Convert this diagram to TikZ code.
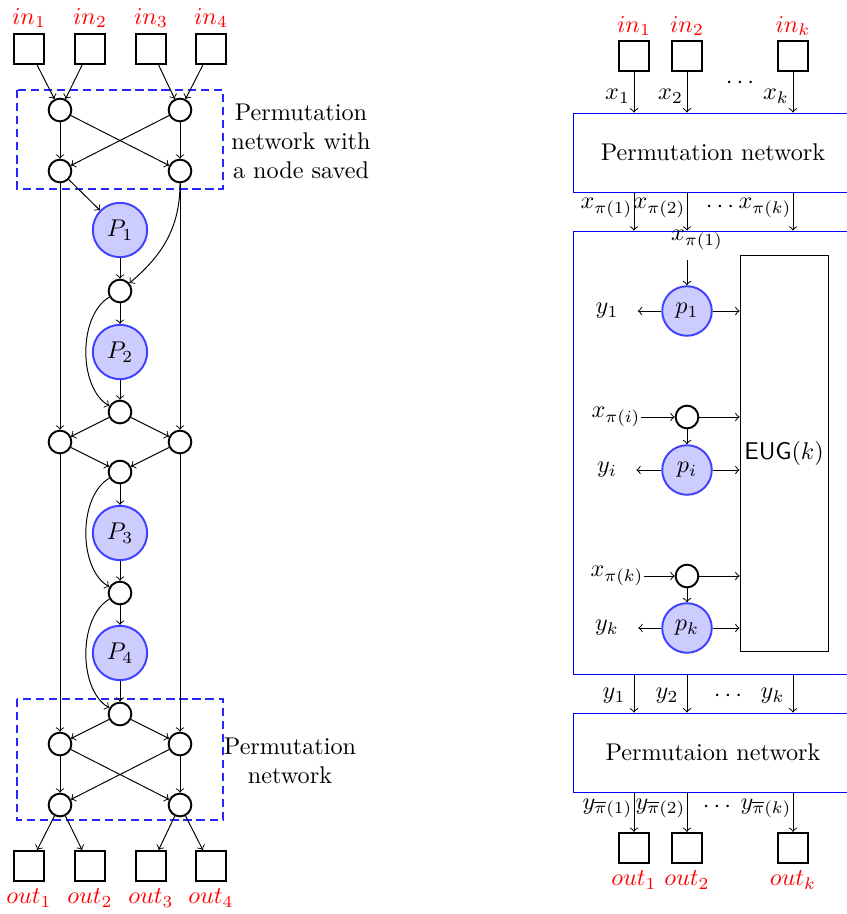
\documentclass[tikz,border=0pt]{standalone}
\usetikzlibrary{calc}
\begin{document}
\begin{tikzpicture}[x=0.01452cm,y=0.01452cm,
  sq/.style={draw,thick,minimum size=.44cm,inner sep=0pt},
  sw/.style={circle,draw,thick,minimum size=.33cm,inner sep=0pt},
  pbig/.style={circle,draw=blue!75,thick,fill=blue!20,minimum size=.79cm,inner sep=0pt},
  psmall/.style={pbig,minimum size=.72cm},
  io/.style={text=red},
  perm/.style={color=blue!85,semithick,dash pattern=on 3.4pt off 2pt},
  ylab/.style={shorten >=4.5pt}]
  \useasboundingbox (0,0) rectangle (847,-914);
  \draw(29,-49) node[sq] (in1) {};
  \draw(90,-49) node[sq] (in2) {};
  \draw(151,-49) node[sq] (in3) {};
  \draw(211,-49) node[sq] (in4) {};
  \draw(29,-18) node[io] (tin1) {$in_1$};
  \draw(90,-18) node[io] (tin2) {$in_2$};
  \draw(151,-18) node[io] (tin3) {$in_3$};
  \draw(211,-18) node[io] (tin4) {$in_4$};
  \draw(60,-110) node[sw] (a1) {};
  \draw(180,-110) node[sw] (a2) {};
  \draw(60,-171) node[sw] (b1) {};
  \draw(180,-171) node[sw] (b2) {};
  \draw[perm] (17,-90) rectangle (223,-189);
  \draw(301,-141) node[align=center] (t1) {Permutation\\network with\\a node saved};
  \draw(120,-230) node[pbig] (P1) {$P_1$};
  \draw(120,-291) node[sw] (c1) {};
  \draw(120,-352) node[pbig] (P2) {$P_2$};
  \draw(120,-412) node[sw] (c2) {};
  \draw(60,-442) node[sw] (l1) {};
  \draw(180,-442) node[sw] (r1) {};
  \draw(120,-472) node[sw] (c3) {};
  \draw(120,-533) node[pbig] (P3) {$P_3$};
  \draw(120,-593) node[sw] (c4) {};
  \draw(120,-653) node[pbig] (P4) {$P_4$};
  \draw(120,-714) node[sw] (c5) {};
  \draw(60,-744) node[sw] (d1) {};
  \draw(180,-744) node[sw] (d2) {};
  \draw(60,-805) node[sw] (e1) {};
  \draw(180,-805) node[sw] (e2) {};
  \draw[perm] (17,-699) rectangle (223,-820);
  \draw(290,-761) node[align=center] (t2) {Permutation\\network};
  \draw(29,-866) node[sq] (out1) {};
  \draw(90,-866) node[sq] (out2) {};
  \draw(151,-866) node[sq] (out3) {};
  \draw(211,-866) node[sq] (out4) {};
  \draw(29,-898) node[io] (tout1) {$out_1$};
  \draw(90,-898) node[io] (tout2) {$out_2$};
  \draw(151,-898) node[io] (tout3) {$out_3$};
  \draw(211,-898) node[io] (tout4) {$out_4$};

  \draw[->] (in1) -- (a1);
  \draw[->] (in2) -- (a1);
  \draw[->] (in3) -- (a2);
  \draw[->] (in4) -- (a2);
  \draw[->] (a1) -- (b1);
  \draw[->] (a1) -- (b2);
  \draw[->] (a2) -- (b1);
  \draw[->] (a2) -- (b2);
  \draw[->] (b1) -- (P1);
  \draw[->] (b1) -- (l1);
  \draw[->] (b2) -- (r1);
  \draw[->] (b2) to[out=-90,in=40] (c1);
  \draw[->] (P1) -- (c1);
  \draw[->] (c1) -- (P2);
  \draw[->] (c1) to[out=210,in=150,looseness=.85] (c2);
  \draw[->] (P2) -- (c2);
  \draw[->] (c2) -- (l1);
  \draw[->] (c2) -- (r1);
  \draw[->] (l1) -- (c3);
  \draw[->] (r1) -- (c3);
  \draw[->] (l1) -- (d1);
  \draw[->] (r1) -- (d2);
  \draw[->] (c3) -- (P3);
  \draw[->] (c3) to[out=210,in=150,looseness=.85] (c4);
  \draw[->] (P3) -- (c4);
  \draw[->] (c4) -- (P4);
  \draw[->] (c4) to[out=210,in=150,looseness=.85] (c5);
  \draw[->] (P4) -- (c5);
  \draw[->] (c5) -- (d1);
  \draw[->] (c5) -- (d2);
  \draw[->] (d1) -- (e1);
  \draw[->] (d1) -- (e2);
  \draw[->] (d2) -- (e1);
  \draw[->] (d2) -- (e2);
  \draw[->] (e1) -- (out1);
  \draw[->] (e1) -- (out2);
  \draw[->] (e2) -- (out3);
  \draw[->] (e2) -- (out4);

  \draw(634,-56) node[sq] (rin1) {};
  \draw(687,-56) node[sq] (rin2) {};
  \draw(793,-56) node[sq] (rink) {};
  \draw(634,-26) node[io] (trin1) {$in_1$};
  \draw(687,-26) node[io] (trin2) {$in_2$};
  \draw(793,-26) node[io] (trink) {$in_k$};
  \draw(740,-83) node (dots1) {$\cdots$};
  \draw(713,-152.5) node[draw=blue,minimum width=4.066cm,minimum height=1.147cm] (pn1) {Permutation network};
  \draw[->] (rin1) -- node[left,pos=.6,inner sep=1.5pt] (x1) {$x_1$} (rin1 |- pn1.north);
  \draw[->] (rin2) -- node[left,pos=.6,inner sep=1.5pt] (x2) {$x_2$} (rin2 |- pn1.north);
  \draw[->] (rink) -- node[left,pos=.6,inner sep=1.5pt] (xk) {$x_k$} (rink |- pn1.north);
  \draw(713,-453) node[draw=blue,minimum width=4.066cm,minimum height=6.447cm] (blk) {};
  \draw[->] (rin1 |- pn1.south) -- node[left,pos=.4,inner sep=.5pt] (xp1) {$x_{\pi(1)}$} (rin1 |- blk.north);
  \draw[->] (rin2 |- pn1.south) -- node[left,pos=.4,inner sep=.5pt] (xp2) {$x_{\pi(2)}$} (rin2 |- blk.north);
  \draw[->] (rink |- pn1.south) -- node[left,pos=.4,inner sep=.5pt] (xpk) {$x_{\pi(k)}$} (rink |- blk.north);
  \draw(720,-207) node (dots2) {$\cdots$};
  \draw(784,-453.5) node[draw,inner sep=0pt,minimum width=1.278cm,minimum height=5.764cm] (eug) {$\mathsf{EUG}(k)$};

  \draw(697,-240) node (xq1) {$x_{\pi(1)}$};
  \coordinate (xq1s) at (687,-260);
  \draw(687,-311) node[psmall] (p1) {$p_1$};
  \draw(607,-311) node (y1) {$y_1$};
  \draw[->] (xq1s) -- (p1);
  \draw[->,ylab] (p1) -- (y1);
  \draw[->] (p1) -- (p1 -| eug.west);

  \draw(616,-417) node[inner sep=0pt] (xqi) {$x_{\pi(i)}$};
  \draw(687,-417) node[sw] (qi) {};
  \draw(687,-470) node[psmall] (pI) {$p_i$};
  \draw(607,-470) node (yi) {$y_i$};
  \draw[->] (xqi) -- (qi);
  \draw[->] (qi) -- (qi -| eug.west);
  \draw[->] (qi) -- (pI);
  \draw[->,ylab] (pI) -- (yi);
  \draw[->] (pI) -- (pI -| eug.west);

  \draw(617,-576) node[inner sep=0pt] (xqk) {$x_{\pi(k)}$};
  \draw(687,-576) node[sw] (qk) {};
  \draw(687,-628) node[psmall] (pk) {$p_k$};
  \draw(607,-628) node (yk) {$y_k$};
  \draw[->] (xqk) -- (qk);
  \draw[->] (qk) -- (qk -| eug.west);
  \draw[->] (qk) -- (pk);
  \draw[->,ylab] (pk) -- (yk);
  \draw[->] (pk) -- (pk -| eug.west);

  \draw(713,-752.5) node[draw=blue,minimum width=4.066cm,minimum height=1.147cm] (pn2) {Permutaion network};
  \draw[->] (rin1 |- blk.south) -- node[left,pos=.55] (z1) {$y_1$} (rin1 |- pn2.north);
  \draw[->] (rin2 |- blk.south) -- node[left,pos=.55] (z2) {$y_2$} (rin2 |- pn2.north);
  \draw[->] (rink |- blk.south) -- node[left,pos=.55] (zk) {$y_k$} (rink |- pn2.north);
  \draw(728,-696) node (dots3) {$\cdots$};
  \draw(634,-848) node[sq] (rout1) {};
  \draw(687,-848) node[sq] (rout2) {};
  \draw(793,-848) node[sq] (routk) {};
  \draw[->] (rout1 |- pn2.south) -- node[left,pos=.4,inner sep=.5pt] (yo1) {$y_{\overline{\pi}(1)}$} (rout1);
  \draw[->] (rout2 |- pn2.south) -- node[left,pos=.4,inner sep=.5pt] (yo2) {$y_{\overline{\pi}(2)}$} (rout2);
  \draw[->] (routk |- pn2.south) -- node[left,pos=.4,inner sep=.5pt] (yok) {$y_{\overline{\pi}(k)}$} (routk);
  \draw(717,-807) node (dots4) {$\cdots$};
  \draw(634,-880) node[io] (trout1) {$out_1$};
  \draw(687,-880) node[io] (trout2) {$out_2$};
  \draw(793,-880) node[io] (troutk) {$out_k$};
\end{tikzpicture}
\end{document}
